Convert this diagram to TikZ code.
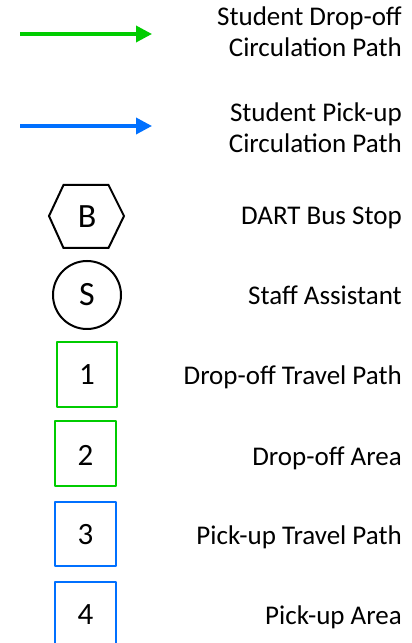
\documentclass[tikz,border=0pt]{standalone}
\usepackage{fontspec}
\setmainfont{Carlito}
\usetikzlibrary{arrows.meta}
\definecolor{dgreen}{RGB}{0,204,0}
\definecolor{dblue}{RGB}{0,112,255}
\tikzset{
  lbl/.style={anchor=base east, inner sep=0pt, align=right, font=\fontsize{27}{31}\selectfont},
  sym/.style={inner sep=0pt, font=\fontsize{34}{36}\selectfont},
  dig/.style={anchor=base, inner sep=0pt, font=\fontsize{31}{34}\selectfont},
  legarrow/.style={line width=3.5pt, -{Triangle[length=16pt,width=16pt]}},
  numbox/.style={line width=2pt, line join=round}
}
\begin{document}
\begin{tikzpicture}[x=1pt,y=1pt]
\clip (0,0) rectangle (412,643);
\useasboundingbox (0,0) rectangle (412,643);
% arrows
\coordinate (g1) at (20,609);
\coordinate (g2) at (152,609);
\draw[legarrow, dgreen] (g1) -- (g2);
\node[lbl] (tg) at (402,586) {Student Drop-off\\Circulation Path};
\coordinate (b1) at (20,517);
\coordinate (b2) at (152,517);
\draw[legarrow, dblue] (b1) -- (b2);
\node[lbl] (tb) at (402,490) {Student Pick-up\\Circulation Path};
% hexagon
\draw[line width=2pt, line join=miter] (63.5,458) -- (108.5,458) -- (124,427) -- (108.5,395) -- (63.5,395) -- (49,427) -- cycle;
\node[sym] (B) at (87,426) {B};
\node[lbl] (tB) at (402,418) {DART Bus Stop};
% circle
\node[draw, circle, line width=2pt, minimum size=68pt, inner sep=0pt, font=\fontsize{34}{36}\selectfont] (S) at (87,348) {S};
\node[lbl] (tS) at (402,338) {Staff Assistant};
% boxes
\draw[numbox, dgreen] (57,301) rectangle (117,236);
\node[dig] (n1) at (87,258) {1};
\node[lbl] (t1) at (402,258) {Drop-off Travel Path};
\draw[numbox, dgreen] (55,222) rectangle (116,157);
\node[dig] (n2) at (85.5,177) {2};
\node[lbl] (t2) at (402,177) {Drop-off Area};
\draw[numbox, dblue] (55,141) rectangle (116,77);
\node[dig] (n3) at (85.5,98) {3};
\node[lbl] (t3) at (402,98) {Pick-up Travel Path};
\draw[numbox, dblue] (55,61) rectangle (116,-4);
\node[dig] (n4) at (85.5,18) {4};
\node[lbl] (t4) at (402,18) {Pick-up Area};
\end{tikzpicture}
\end{document}
